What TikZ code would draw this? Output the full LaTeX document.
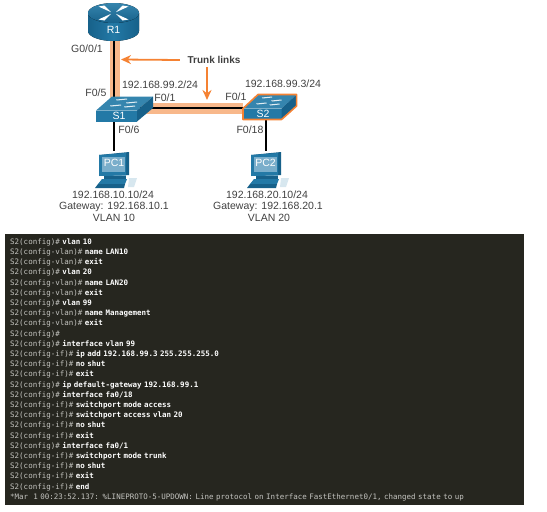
\documentclass[tikz,border=0pt]{standalone}
\usepackage{fontspec}
\setmainfont{Liberation Sans}
\setmonofont{DejaVu Sans Mono}
\usetikzlibrary{positioning, arrows.meta, backgrounds}

\definecolor{ciscoblue}{HTML}{2379A6}
\definecolor{ciscodark}{HTML}{17618A}
\definecolor{ciscolight}{HTML}{3585AE}
\definecolor{screenblue}{HTML}{7AAECB}
\definecolor{trunkorange}{HTML}{F58233}
\definecolor{trunkhalo}{HTML}{F8B88B}
\definecolor{termback}{HTML}{26261F}
\definecolor{promptgray}{HTML}{C4C4C0}
\definecolor{labelgray}{HTML}{404040}

\newcommand{\swline}[2]{\textcolor{promptgray}{S2(#1)\#} \textbf{#2}\\}

\tikzset{
    routericon/.pic={
        \fill[left color=ciscodark, right color=ciscodark, middle color=ciscoblue] (-25.5,0) -- (-25.5,18) arc[start angle=180, end angle=360, x radius=25.5pt, y radius=10pt] -- (25.5,0) -- cycle;
        \fill[top color=ciscolight, bottom color=ciscodark] (0,0) ellipse[x radius=25.5pt, y radius=10pt];
        \foreach \sx/\sy in {1/1, -1/1, 1/-1, -1/-1}
            \fill[white] (\sx*2.5,\sy*0.8) -- (\sx*15,\sy*6.5) -- (\sx*9,\sy*7.5) -- cycle;
    },
    switchicon/.pic={
        \fill[ciscolight] (0,14) -- (16,0) -- (57,0) -- (41,14) -- cycle;
        \fill[ciscoblue] (0,14) rectangle (41,25);
        \fill[ciscodark] (41,14) -- (57,0) -- (57,11.5) -- (41,25) -- cycle;
        \foreach \lx/\ly in {20/3, 30/6, 14/9, 28/10}
            \fill[white!85!ciscolight] (\lx,\ly) -- (\lx+11,\ly-1) -- (\lx+11,\ly) -- (\lx+1,\ly+1) -- cycle;
    },
    switchoutline/.pic={
        \draw[trunkorange, line width=1.6pt, line join=round] (0,14) -- (16,0) -- (57,0) -- (57,11.5) -- (41,25) -- (0,25) -- cycle;
    },
    pcicon/.pic={
        \fill[ciscodark] (-15,-8) -- (15,-11) -- (15,12) -- (-15,13) -- cycle;
        \fill[ciscoblue] (-15,-8) -- (12,-10) -- (12,12.5) -- (-15,13) -- cycle;
        \fill[screenblue] (-12.3,-5.7) rectangle (10.5,8.7);
        \fill[ciscodark] (-10,13) rectangle (12,16);
        \fill[ciscoblue] (-12,16) -- (13,16) -- (11,21) -- (-16,21) -- cycle;
        \fill[ciscodark] (-19,25) -- (-16,21) -- (11,21) -- (10,25) -- cycle;
        \fill[white!70!screenblue] (15,15) -- (23,15) -- (20,24) -- (14,24) -- cycle;
    },
    hostlabel/.style={font=\fontsize{10.5}{12}\selectfont, text=white, inner sep=0pt},
    portlabel/.style={font=\fontsize{10.5}{12}\selectfont, text=labelgray, inner sep=0pt},
    trunkarrow/.style={draw=trunkorange, line width=1.8pt, -{Stealth[length=10pt, width=9pt]}},
    halo/.style={draw=trunkhalo, line width=10.5pt},
    wire/.style={draw=black, line width=1.7pt}
}

\begin{document}
\begin{tikzpicture}[x=1pt, y=-1pt]
\useasboundingbox (0,0) rectangle (547,512);

% icons
\pic at (113.5,13) {routericon};
\pic at (96,96.5) {switchicon};
\pic[xscale=0.94] at (243,94.5) {switchicon};
\pic[xscale=0.94] at (243,94.5) {switchoutline};
\pic at (114,163) {pcicon};
\pic at (266,163) {pcicon};

% nodes
\node[hostlabel, minimum width=51pt, minimum height=22pt] (R1) at (113.5,30) {R1};
\node[hostlabel, minimum width=42pt, minimum height=11pt] (S1) at (119,115.5) {S1};
\node[hostlabel, minimum width=40pt, minimum height=11.5pt] (S2) at (263,114.2) {S2};
\node[hostlabel, minimum width=30pt, minimum height=24pt] (PC1) at (114,163) {PC1};
\node[hostlabel, minimum width=30pt, minimum height=24pt] (PC2) at (265.5,163) {PC2};
\node[font=\fontsize{10}{12}\selectfont\bfseries, text=labelgray, inner sep=0pt, minimum width=68pt, minimum height=14pt] (trunk) at (214,60) {Trunk links};
\coordinate (leftend) at (121,59.5);
\coordinate (downend) at (207,100);

% port and address labels
\node[portlabel] (g001) at (87,49) {G0/0/1};
\node[portlabel] (f05) at (96,93) {F0/5};
\node[portlabel] (f01a) at (165,98) {F0/1};
\node[portlabel] (f01b) at (236,97) {F0/1};
\node[portlabel] (f06) at (129,130) {F0/6};
\node[portlabel] (f018) at (250,130) {F0/18};
\node[portlabel] (ip1) at (160,85) {192.168.99.2/24};
\node[portlabel] (ip2) at (283,84) {192.168.99.3/24};
\node[portlabel] (ip10) at (113,195) {192.168.10.10/24};
\node[portlabel] (gw10) at (114,207) {Gateway: 192.168.10.1};
\node[portlabel] (vlan10) at (114,218) {VLAN 10};
\node[portlabel] (ip20) at (267,195) {192.168.20.10/24};
\node[portlabel] (gw20) at (268,207) {Gateway: 192.168.20.1};
\node[portlabel] (vlan20) at (269,218) {VLAN 20};

% links
\begin{scope}[on background layer]
\draw[halo] ([xshift=1.5pt]R1.south) -- ([xshift=1.5pt]R1.south |- S1.north);
\draw[halo] (S1.east |- S2.north west) -- (S2.north west);
\draw[wire] ([xshift=0.5pt]R1.south) -- ([xshift=0.5pt]R1.south |- S1.north);
\draw[wire] (S1.east |- S2.north west) -- (S2.north west);
\draw[wire] (PC1.north |- S1.south) -- (PC1.north);
\draw[wire] ([xshift=0.8pt]PC2.north |- S2.south) -- ([xshift=0.8pt]PC2.north);
\end{scope}
\draw[trunkarrow] (trunk.west) -- (leftend);
\draw[trunkarrow] (downend |- trunk.south) -- (downend);

% terminal
\node[fill=termback, anchor=north west, inner xsep=5pt, inner ysep=0pt, text width=509pt, minimum height=271pt, align=left, text=white, font=\ttfamily\fontsize{7.5}{10.2}\selectfont] (terminal) at (5,234) {%
\swline{config}{vlan 10}
\swline{config-vlan}{name LAN10}
\swline{config-vlan}{exit}
\swline{config}{vlan 20}
\swline{config-vlan}{name LAN20}
\swline{config-vlan}{exit}
\swline{config}{vlan 99}
\swline{config-vlan}{name Management}
\swline{config-vlan}{exit}
\swline{config}{}
\swline{config}{interface vlan 99}
\swline{config-if}{ip add 192.168.99.3 255.255.255.0}
\swline{config-if}{no shut}
\swline{config-if}{exit}
\swline{config}{ip default-gateway 192.168.99.1}
\swline{config}{interface fa0/18}
\swline{config-if}{switchport mode access}
\swline{config-if}{switchport access vlan 20}
\swline{config-if}{no shut}
\swline{config-if}{exit}
\swline{config}{interface fa0/1}
\swline{config-if}{switchport mode trunk}
\swline{config-if}{no shut}
\swline{config-if}{exit}
\swline{config-if}{end}
\textcolor{promptgray}{*Mar\ \ 1 00:23:52.137: \%LINEPROTO-5-UPDOWN: Line protocol on Interface FastEthernet0/1, changed state to up}};

\end{tikzpicture}
\end{document}
